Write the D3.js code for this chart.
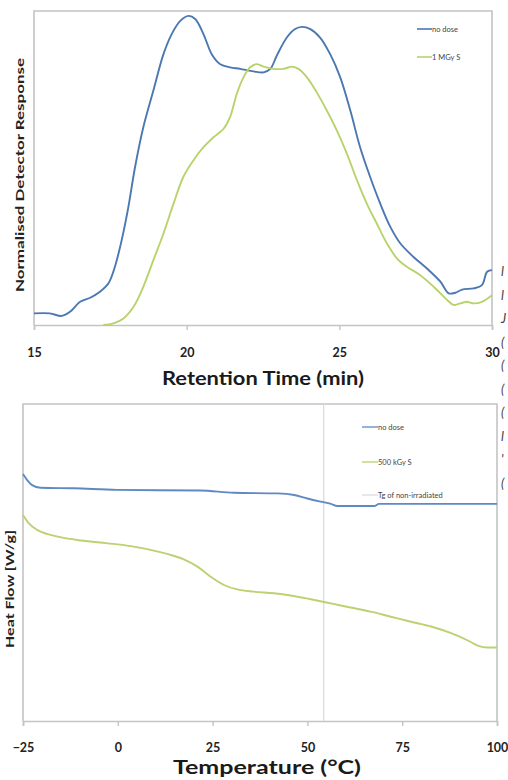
<!DOCTYPE html>
<html><head><meta charset="utf-8">
<script src="https://cdn.jsdelivr.net/npm/d3@7"></script>
<style>html,body{margin:0;padding:0;background:#fff;}svg{display:block;}</style>
</head><body>
<script>
// ---- Top chart data (GPC) ----
const gpcTicks = [15, 20, 25, 30];
const noDoseTime = [15.00,15.52,15.91,16.18,16.51,16.84,17.16,17.44,17.65,17.87,18.09,18.31,18.58,18.91,19.24,19.51,19.79,20.06,20.28,20.55,20.82,21.10,21.42,21.75,22.19,22.52,22.74,22.95,23.28,23.55,23.77,24.05,24.37,24.70,25.03,25.36,25.68,26.01,26.34,26.67,27.00,27.43,27.87,28.31,28.58,28.80,29.02,29.40,29.67,29.84,30.00];
const noDoseResp = [0.037,0.037,0.029,0.042,0.074,0.087,0.106,0.133,0.186,0.270,0.376,0.504,0.631,0.748,0.864,0.928,0.970,0.986,0.976,0.928,0.864,0.832,0.822,0.817,0.809,0.806,0.817,0.859,0.917,0.944,0.951,0.944,0.917,0.864,0.790,0.684,0.567,0.472,0.387,0.313,0.260,0.217,0.180,0.138,0.101,0.103,0.113,0.117,0.127,0.170,0.175];
const mgyTime = [17.27,17.60,17.93,18.26,18.58,18.91,19.24,19.57,19.89,20.22,20.55,20.88,21.21,21.42,21.64,21.86,22.08,22.28,22.52,22.84,23.17,23.45,23.66,23.94,24.26,24.59,24.92,25.25,25.58,25.90,26.23,26.56,26.89,27.21,27.65,28.09,28.53,28.74,28.96,29.18,29.40,29.67,30.00];
const mgyResp = [0.000,0.005,0.021,0.058,0.122,0.207,0.292,0.387,0.472,0.525,0.567,0.599,0.626,0.663,0.737,0.790,0.822,0.832,0.824,0.817,0.817,0.824,0.817,0.790,0.742,0.684,0.620,0.546,0.461,0.387,0.323,0.260,0.212,0.186,0.159,0.122,0.080,0.064,0.069,0.074,0.069,0.074,0.095];
const gpcLegend = ["no dose", "1 MGy S"];

// ---- Bottom chart data (DSC) ----
const dscTicks = [-25, 0, 25, 50, 75, 100];
const dscNoDoseT = [-25.0,-23.9,-22.6,-20.4,-11.6,-0.2,21.8,30.6,42.1,46.5,50.0,53.5,56.2,57.9,67.6,68.9,100];
const dscNoDoseHF = [0.779,0.760,0.744,0.736,0.734,0.729,0.727,0.720,0.718,0.713,0.702,0.692,0.685,0.678,0.678,0.685,0.685];
const dsc500T = [-25.0,-23.5,-21.3,-18.7,-15.2,-10.7,-4.6,0.0,4.2,8.6,13.0,17.4,21.0,24.5,28.0,31.5,35.9,41.2,45.6,50.9,56.2,61.4,66.7,72.0,77.3,82.6,87.9,92.3,94.9,97.5,100];
const dsc500HF = [0.650,0.624,0.603,0.590,0.580,0.571,0.563,0.557,0.550,0.540,0.527,0.510,0.487,0.455,0.429,0.415,0.408,0.403,0.396,0.384,0.371,0.358,0.345,0.329,0.313,0.298,0.277,0.254,0.238,0.232,0.232];
const tgNonIrradiated = 54.3;
const dscLegend = ["no dose", "500 kGy S", "Tg of non-irradiated"];

// right-edge fragments of neighbouring text
const edgeChars = ["l","l","J","(","(","(","(","l","'","("];

const W = 508, H = 780;
const svg = d3.select("body").append("svg").attr("width", W).attr("height", H);
const FONT = "Lato, 'Open Sans', sans-serif";
const frameCol = "#c4c4c4";

// ===== Top chart =====
{
  const L = 34, R = 492, T = 11, B = 325;
  const x = d3.scaleLinear().domain([15, 30]).range([L, R]);
  const y = d3.scaleLinear().domain([0, 1]).range([B, T + 0.5]);
  const g = svg.append("g");
  g.append("path").attr("d", `M${L},${B}V${T}H${R}V${B}`).attr("fill","none").attr("stroke",frameCol).attr("stroke-width",1.6);
  const ax = g.append("g").attr("transform",`translate(0,${B})`)
    .call(d3.axisBottom(x).tickValues(gpcTicks).tickSize(5).tickFormat(d3.format("d")));
  ax.select(".domain").attr("stroke",frameCol).attr("stroke-width",1.6);
  ax.selectAll(".tick line").attr("stroke",frameCol).attr("stroke-width",1.4);
  ax.selectAll(".tick text").attr("font-family",FONT).attr("font-weight","bold").attr("font-size",12.5).attr("fill","#222").attr("dy",0).attr("y",32);
  const line = d3.line().curve(d3.curveCatmullRom.alpha(0.5));
  g.append("path").attr("d", line(noDoseTime.map((t,i)=>[x(t), y(noDoseResp[i])])))
    .attr("fill","none").attr("stroke","#4b78b1").attr("stroke-width",1.9);
  g.append("path").attr("d", line(mgyTime.map((t,i)=>[x(t), y(mgyResp[i])])))
    .attr("fill","none").attr("stroke","#b9d36c").attr("stroke-width",1.9);
  const lc = ["#4b78b1", "#b9d36c"], ly = [29, 57];
  gpcLegend.forEach((s,i)=>{
    g.append("line").attr("x1",417).attr("x2",432).attr("y1",ly[i]).attr("y2",ly[i]).attr("stroke",lc[i]).attr("stroke-width",1.6);
    g.append("text").attr("x",432).attr("y",ly[i]+2.5).attr("font-family",FONT).attr("font-size",7.5).attr("fill","#444").text(s);
  });
  g.append("text").attr("x",(L+R)/2).attr("y",385).attr("text-anchor","middle").attr("font-family",FONT)
    .attr("font-weight","bold").attr("font-size",18).attr("fill","#1a1a1a").attr("textLength",202).attr("lengthAdjust","spacingAndGlyphs").text("Retention Time (min)");
  g.append("text").attr("transform","translate(24,175) rotate(-90)").attr("text-anchor","middle").attr("font-family",FONT)
    .attr("font-weight","bold").attr("font-size",12).attr("fill","#222").attr("textLength",234).attr("lengthAdjust","spacingAndGlyphs").text("Normalised Detector Response");
}

// ===== Bottom chart =====
{
  const L = 23, R = 497, T = 404, B = 721;
  const x = d3.scaleLinear().domain([-25, 100]).range([L, R]);
  const y = d3.scaleLinear().domain([0, 1]).range([B, T]);
  const g = svg.append("g");
  g.append("path").attr("d", `M${L},${B}V${T}H${R}V${B}`).attr("fill","none").attr("stroke",frameCol).attr("stroke-width",1.6);
  const ax = g.append("g").attr("transform",`translate(0,${B})`)
    .call(d3.axisBottom(x).tickValues(dscTicks).tickSize(5).tickFormat(d3.format("d")));
  ax.select(".domain").attr("stroke",frameCol).attr("stroke-width",1.6);
  ax.selectAll(".tick line").attr("stroke",frameCol).attr("stroke-width",1.4);
  ax.selectAll(".tick text").attr("font-family",FONT).attr("font-weight","bold").attr("font-size",12.5).attr("fill","#222").attr("dy",0).attr("y",31);
  // Tg line
  g.append("line").attr("x1",x(tgNonIrradiated)).attr("x2",x(tgNonIrradiated)).attr("y1",T).attr("y2",B)
    .attr("stroke","#d8d8d8").attr("stroke-width",1.2);
  const line = d3.line().curve(d3.curveMonotoneX);
  g.append("path").attr("d", line(dscNoDoseT.map((t,i)=>[x(t), y(dscNoDoseHF[i])])))
    .attr("fill","none").attr("stroke","#5f89c3").attr("stroke-width",1.9);
  g.append("path").attr("d", line(dsc500T.map((t,i)=>[x(t), y(dsc500HF[i])])))
    .attr("fill","none").attr("stroke","#bcd171").attr("stroke-width",1.9);
  const lc = ["#7a9fd2", "#c6d98a", "#dfe3ea"], ly = [427, 462, 495];
  dscLegend.forEach((s,i)=>{
    g.append("line").attr("x1",362).attr("x2",378).attr("y1",ly[i]).attr("y2",ly[i]).attr("stroke",lc[i]).attr("stroke-width",1.6);
    g.append("text").attr("x",378).attr("y",ly[i]+2.5).attr("font-family",FONT).attr("font-size",7.5).attr("fill","#444").text(s);
  });
  g.append("text").attr("x",267).attr("y",774).attr("text-anchor","middle").attr("font-family",FONT)
    .attr("font-weight","bold").attr("font-size",18).attr("fill","#1a1a1a").attr("textLength",188).attr("lengthAdjust","spacingAndGlyphs").text("Temperature (°C)");
  g.append("text").attr("transform","translate(14,589) rotate(-90)").attr("text-anchor","middle").attr("font-family",FONT)
    .attr("font-weight","bold").attr("font-size",12).attr("fill","#222").attr("textLength",118).attr("lengthAdjust","spacingAndGlyphs").text("Heat Flow [W/g]");
}

// right-edge text fragments
edgeChars.forEach((c,i)=>{
  svg.append("text").attr("x",501).attr("y",276 + i*23.5).attr("font-family",FONT).attr("font-style","italic")
    .attr("font-size",13).attr("fill","#444").text(c);
});
</script>
</body></html>
